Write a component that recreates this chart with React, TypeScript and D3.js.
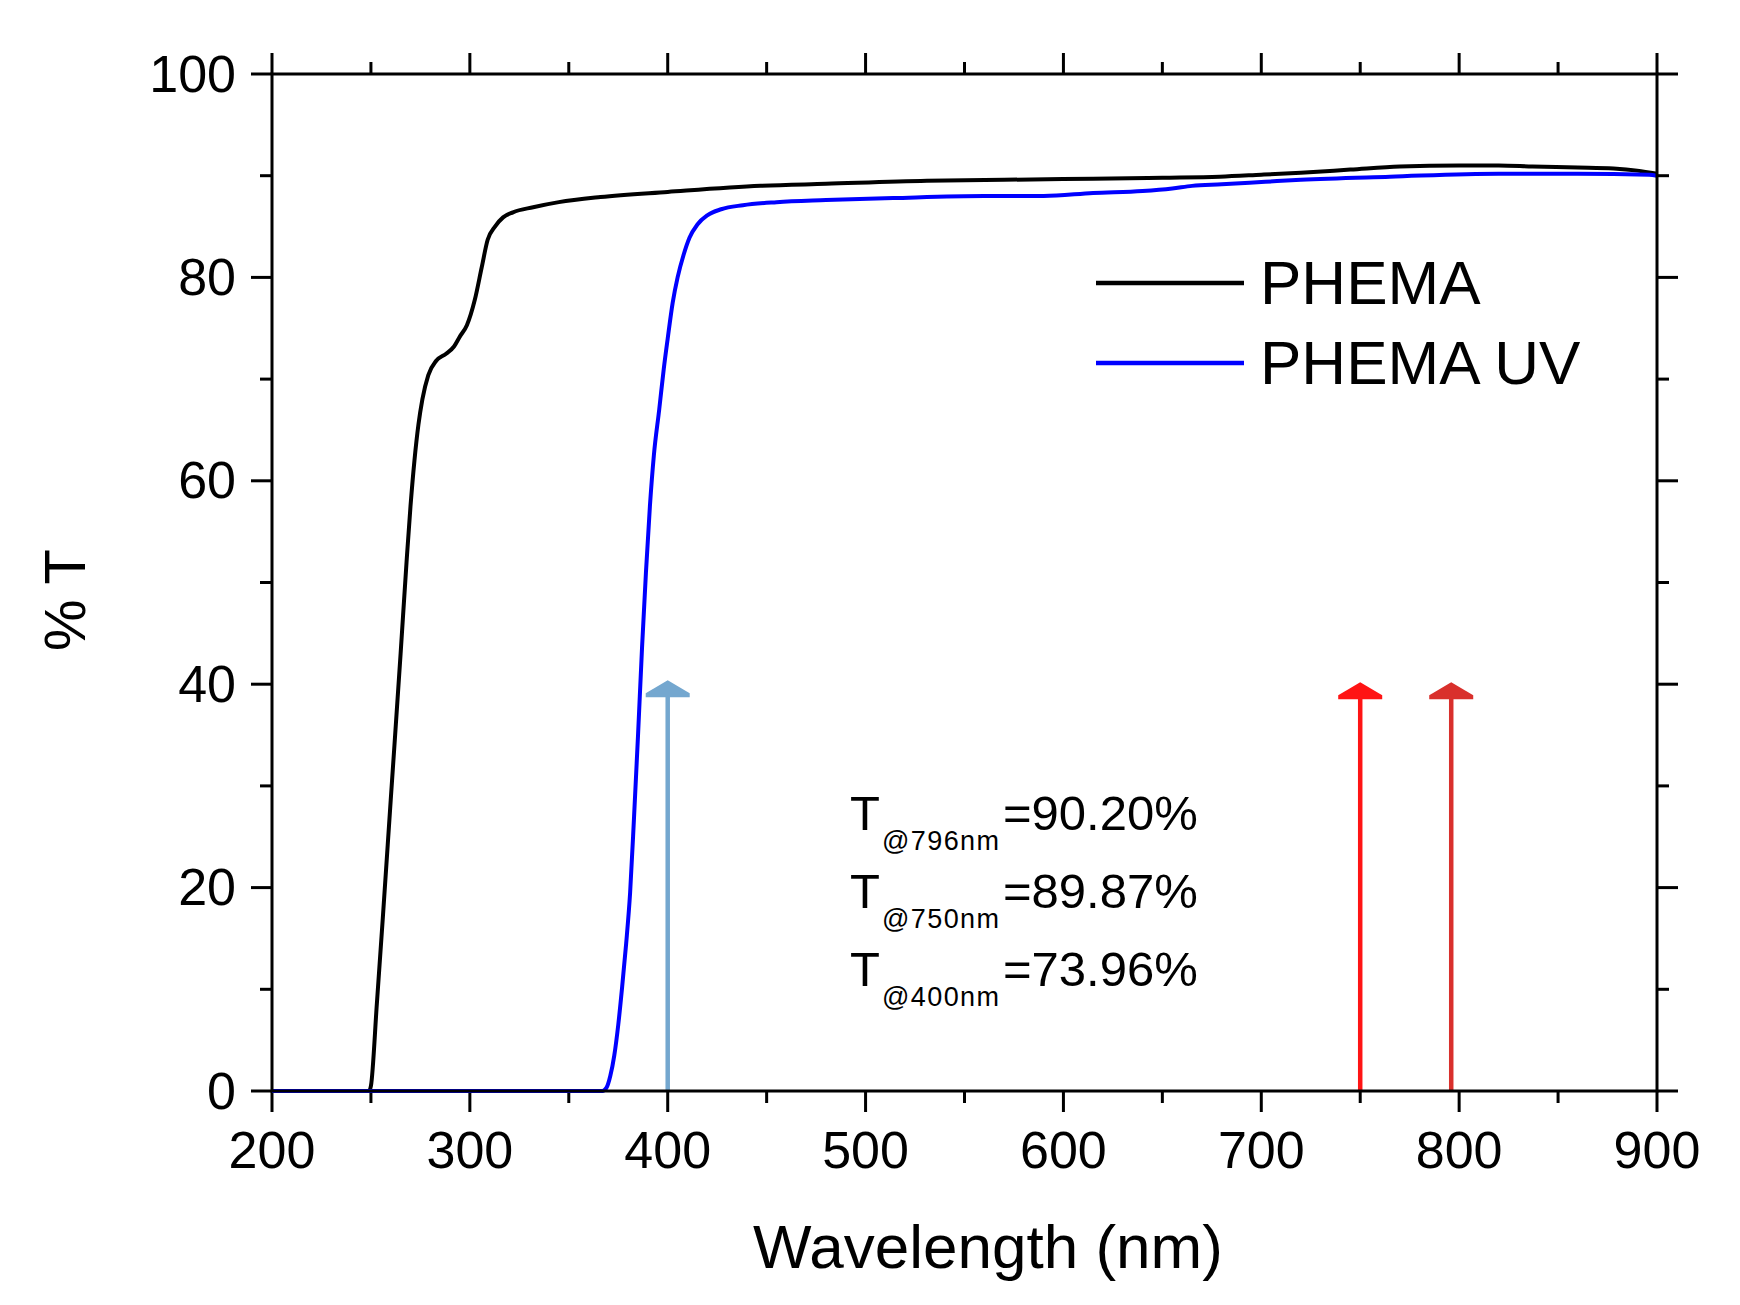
import * as d3 from "d3";
import { useEffect, useRef } from "react";

// PHEMA (black)
const phemaWl = [
  200, 249, 250, 253, 256, 260, 265, 268, 270, 272, 274, 276, 279, 283, 288,
  292, 295, 298.5, 302.5, 306, 309, 312.7, 316.8, 321.8, 332, 345, 366, 400,
  447, 480, 531, 570, 615, 650, 679, 700, 720, 745, 770, 800, 820, 837, 860,
  878, 890, 900,
];
const phemaT = [
  0, 0, 0.5, 8.6, 17, 28.6, 43, 52, 57.5, 62, 65.5, 68, 70.4, 71.8, 72.5, 73.2,
  74.2, 75.3, 77.8, 81.0, 83.7, 85.0, 85.9, 86.4, 86.9, 87.4, 87.9, 88.4, 89.0,
  89.2, 89.5, 89.6, 89.7, 89.8, 89.9, 90.1, 90.3, 90.6, 90.9, 91.0, 91.0, 90.9,
  90.8, 90.7, 90.5, 90.2,
];

// PHEMA UV (blue)
const uvWl = [
  200, 367, 369, 371, 373, 375, 377, 379, 381, 383, 385, 387, 389, 391, 393,
  395.7, 398, 400, 402.5, 405, 408, 411, 415, 420, 427, 438, 455, 480, 514,
  560, 590, 615, 640, 655, 665, 680, 702, 720, 765, 820, 860, 896, 900,
];
const uvT = [
  0, 0, 0.3, 1.5, 3.5, 6.5, 10.3, 14.5, 19.5, 27, 35, 43.5, 51, 57.5, 62.5,
  67, 71, 74, 77.5, 80, 82.2, 83.9, 85.2, 86.1, 86.7, 87.1, 87.4, 87.6, 87.8,
  88.0, 88.0, 88.3, 88.5, 88.75, 89.0, 89.15, 89.4, 89.6, 89.9, 90.2, 90.2,
  90.1, 90.0,
];

const seriesNames = ["PHEMA", "PHEMA UV"];
const seriesColors = ["#000000", "#0000ff"];

// marker arrows
const arrowWl = [400, 750, 796];
const arrowTop = [40.4, 40.2, 40.2];
const arrowColors = ["#74a7cf", "#ff1414", "#d9302c"];

// annotation text
const annotSub = ["@796nm", "@750nm", "@400nm"];
const annotVal = ["=90.20%", "=89.87%", "=73.96%"];

const xTicks = [200, 300, 400, 500, 600, 700, 800, 900];
const yTicks = [0, 20, 40, 60, 80, 100];

const FONT = "'Liberation Sans', Arial, sans-serif";

const Chart: React.FC = () => {
  const ref = useRef<SVGSVGElement | null>(null);

  useEffect(() => {
    const svg = d3.select(ref.current);
    svg.selectAll("*").remove();

    const width = 1740;
    const height = 1305;
    svg.attr("width", width).attr("height", height);

    svg.append("rect").attr("width", width).attr("height", height).attr("fill", "#fff");

    const left = 272;
    const right = 1657;
    const top = 74;
    const bottom = 1091;

    const x = d3.scaleLinear().domain([200, 900]).range([left, right]);
    const y = d3.scaleLinear().domain([0, 100]).range([bottom, top]);

    const g = svg.append("g");

    // ticks on all four sides, pointing outward
    const minorX = d3.range(250, 900, 100);
    const minorY = d3.range(10, 100, 20);
    const major = 21;
    const minor = 12;
    const tickStroke = 3;

    xTicks.forEach((t) => {
      g.append("line").attr("x1", x(t)).attr("x2", x(t)).attr("y1", bottom).attr("y2", bottom + major)
        .attr("stroke", "#000").attr("stroke-width", tickStroke);
      g.append("line").attr("x1", x(t)).attr("x2", x(t)).attr("y1", top).attr("y2", top - major)
        .attr("stroke", "#000").attr("stroke-width", tickStroke);
    });
    minorX.forEach((t) => {
      g.append("line").attr("x1", x(t)).attr("x2", x(t)).attr("y1", bottom).attr("y2", bottom + minor)
        .attr("stroke", "#000").attr("stroke-width", tickStroke);
      g.append("line").attr("x1", x(t)).attr("x2", x(t)).attr("y1", top).attr("y2", top - minor)
        .attr("stroke", "#000").attr("stroke-width", tickStroke);
    });
    yTicks.forEach((t) => {
      g.append("line").attr("x1", left).attr("x2", left - major).attr("y1", y(t)).attr("y2", y(t))
        .attr("stroke", "#000").attr("stroke-width", tickStroke);
      g.append("line").attr("x1", right).attr("x2", right + major).attr("y1", y(t)).attr("y2", y(t))
        .attr("stroke", "#000").attr("stroke-width", tickStroke);
    });
    minorY.forEach((t) => {
      g.append("line").attr("x1", left).attr("x2", left - minor).attr("y1", y(t)).attr("y2", y(t))
        .attr("stroke", "#000").attr("stroke-width", tickStroke);
      g.append("line").attr("x1", right).attr("x2", right + minor).attr("y1", y(t)).attr("y2", y(t))
        .attr("stroke", "#000").attr("stroke-width", tickStroke);
    });

    // tick labels
    g.selectAll(".xl")
      .data(xTicks)
      .enter()
      .append("text")
      .attr("x", (d) => x(d))
      .attr("y", 1168)
      .attr("text-anchor", "middle")
      .style("font-family", FONT)
      .style("font-size", "52px")
      .text((d) => d);

    g.selectAll(".yl")
      .data(yTicks)
      .enter()
      .append("text")
      .attr("x", 236)
      .attr("y", (d) => y(d))
      .attr("dy", "0.34em")
      .attr("text-anchor", "end")
      .style("font-family", FONT)
      .style("font-size", "52px")
      .text((d) => d);

    // axis titles
    svg.append("text")
      .attr("x", 988)
      .attr("y", 1268)
      .attr("text-anchor", "middle")
      .style("font-family", FONT)
      .style("font-size", "62px")
      .text("Wavelength (nm)");

    svg.append("text")
      .attr("transform", `translate(85, 600) rotate(-90)`)
      .attr("text-anchor", "middle")
      .style("font-family", FONT)
      .style("font-size", "58px")
      .text("% T");

    // arrows
    arrowWl.forEach((w, i) => {
      const tipY = y(arrowTop[i]);
      const headH = 17;
      const headW = 22;
      g.append("line")
        .attr("x1", x(w)).attr("x2", x(w))
        .attr("y1", y(0)).attr("y2", tipY + headH - 1)
        .attr("stroke", arrowColors[i]).attr("stroke-width", 4.5);
      g.append("path")
        .attr("d", `M${x(w)},${tipY} L${x(w) + headW},${tipY + headH - 4} L${x(w) + headW},${tipY + headH} L${x(w) - headW},${tipY + headH} L${x(w) - headW},${tipY + headH - 4} Z`)
        .attr("fill", arrowColors[i]);
    });

    // curves
    const line = d3
      .line<[number, number]>()
      .x((d) => x(d[0]))
      .y((d) => y(d[1]))
      .curve(d3.curveMonotoneX);

    const series = [
      phemaWl.map((w, i) => [w, phemaT[i]] as [number, number]),
      uvWl.map((w, i) => [w, uvT[i]] as [number, number]),
    ];
    series.forEach((s, i) => {
      g.append("path")
        .attr("d", line(s) ?? "")
        .attr("fill", "none")
        .attr("stroke", seriesColors[i])
        .attr("stroke-width", 4)
        .attr("stroke-linejoin", "round");
    });

    // frame
    g.append("rect")
      .attr("x", left).attr("y", top)
      .attr("width", right - left).attr("height", bottom - top)
      .attr("fill", "none").attr("stroke", "#000").attr("stroke-width", 3);

    // legend
    seriesNames.forEach((name, i) => {
      const ly = 283 + i * 80;
      svg.append("line")
        .attr("x1", 1096).attr("x2", 1244).attr("y1", ly).attr("y2", ly)
        .attr("stroke", seriesColors[i]).attr("stroke-width", 4.5);
      svg.append("text")
        .attr("x", 1260).attr("y", ly + 21)
        .style("font-family", FONT)
        .style("font-size", "62px")
        .text(name);
    });

    // annotation
    annotSub.forEach((sub, i) => {
      const by = 830 + i * 78;
      svg.append("text")
        .attr("x", 850).attr("y", by)
        .style("font-family", FONT).style("font-size", "49px")
        .text("T");
      svg.append("text")
        .attr("x", 882).attr("y", by + 20)
        .style("font-family", FONT).style("font-size", "27px")
        .attr("textLength", 117)
        .text(sub);
      svg.append("text")
        .attr("x", 1003).attr("y", by)
        .style("font-family", FONT).style("font-size", "49px")
        .text(annotVal[i]);
    });
  }, []);

  return <svg ref={ref} style={{ position: "absolute", left: 0, top: 0 }}></svg>;
};

export default function App() {
  return <Chart />;
}
